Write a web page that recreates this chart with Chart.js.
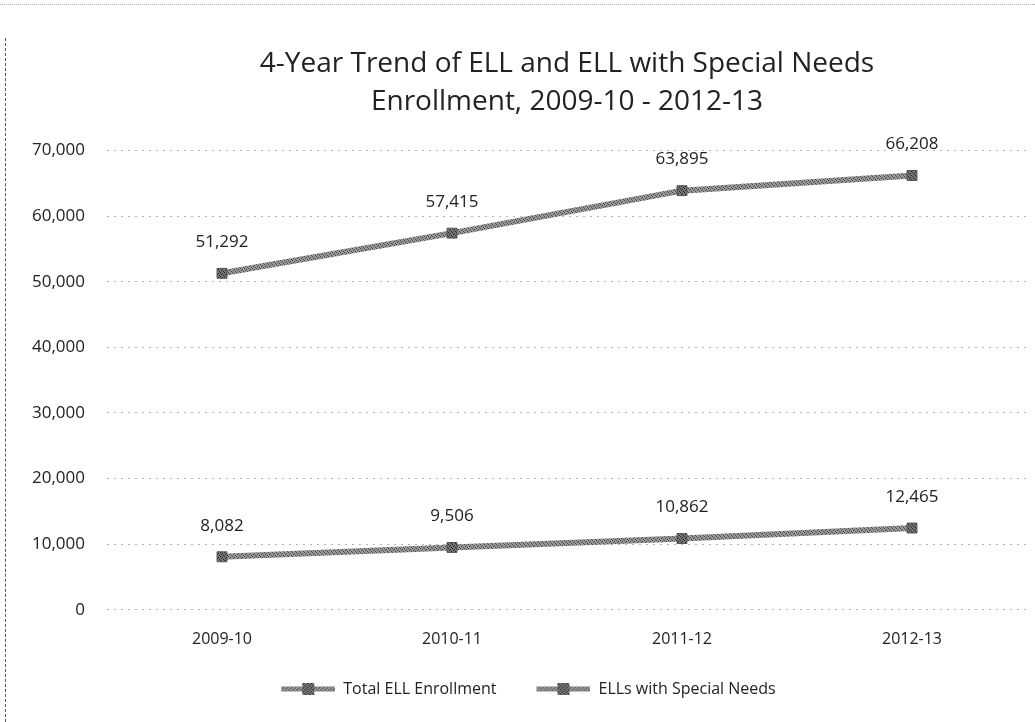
<!DOCTYPE html>
<html>
<head>
<meta charset="utf-8">
<script src="https://cdn.jsdelivr.net/npm/chart.js@4.4.0/dist/chart.umd.min.js"></script>
<style>
  html, body { margin: 0; padding: 0; background: #fff; }
  #wrap { position: relative; width: 1035px; height: 722px; }
  #frame { position: absolute; left: 5px; top: 38px; bottom: 0; border-left: 1px dashed #555; }
  #topline { position: absolute; left: 0; right: 0; top: 4px; border-top: 1px dotted #aaa; }
</style>
</head>
<body>
<div id="wrap">
  <div id="topline"></div>
  <div id="frame"></div>
  <canvas id="chart" width="1035" height="722"></canvas>
</div>
<script>
const years = ['2009-10', '2010-11', '2011-12', '2012-13'];
const totalEll = [51292, 57415, 63895, 66208];
const ellSpecialNeeds = [8082, 9506, 10862, 12465];
const seriesNames = ['Total ELL Enrollment', 'ELLs with Special Needs'];
const yTicks = [0, 10000, 20000, 30000, 40000, 50000, 60000, 70000];

const fontFamily = '"Open Sans", "Noto Sans", sans-serif';

// speckled grey fill, like the scanned print
function makePattern(light, dark) {
    const c = document.createElement('canvas');
    c.width = 4; c.height = 4;
    const g = c.getContext('2d');
    g.fillStyle = light;
    g.fillRect(0, 0, 4, 4);
    g.fillStyle = dark;
    g.fillRect(0, 0, 1, 1); g.fillRect(2, 1, 1, 1);
    g.fillRect(1, 2, 1, 1); g.fillRect(3, 3, 1, 1);
    return g.createPattern(c, 'repeat');
}

const linePattern = makePattern('#9a9a9a', '#444');
const markerPattern = makePattern('#777', '#222');

// legend icon: blank gap on the left, then line with a square marker
function legendIcon() {
    const c = document.createElement('canvas');
    c.width = 74; c.height = 14;
    const g = c.getContext('2d');
    g.strokeStyle = linePattern;
    g.lineWidth = 5;
    g.beginPath(); g.moveTo(20, 7); g.lineTo(74, 7); g.stroke();
    g.fillStyle = markerPattern;
    g.fillRect(41, 1, 12, 12);
    return c;
}

const dataLabels = {
    id: 'dataLabels',
    afterDatasetsDraw(chart) {
        const ctx = chart.ctx;
        ctx.save();
        ctx.font = '17px ' + fontFamily;
        ctx.fillStyle = '#222';
        ctx.textAlign = 'center';
        ctx.textBaseline = 'middle';
        chart.data.datasets.forEach((ds, i) => {
            chart.getDatasetMeta(i).data.forEach((pt, j) => {
                ctx.fillText(ds.data[j].toLocaleString('en-US'), pt.x, pt.y - 31);
            });
        });
        ctx.restore();
    }
};

function makeDataset(label, values) {
    return {
        label: label,
        data: values,
        borderColor: linePattern,
        borderWidth: 6,
        pointStyle: 'rect',
        pointRadius: 7,
        pointBackgroundColor: markerPattern,
        pointBorderColor: '#555',
        pointBorderWidth: 1,
        tension: 0
    };
}

new Chart(document.getElementById('chart').getContext('2d'), {
    type: 'line',
    data: {
        labels: years,
        datasets: [
            makeDataset(seriesNames[0], totalEll),
            makeDataset(seriesNames[1], ellSpecialNeeds)
        ]
    },
    options: {
        responsive: false,
        animation: false,
        layout: { padding: { left: 10, right: 8, top: 45, bottom: 15 } },
        scales: {
            x: {
                offset: true,
                grid: { display: false },
                border: { display: false },
                ticks: { color: '#222', font: { family: fontFamily, size: 16 }, padding: 12 }
            },
            y: {
                min: 0,
                max: 70000,
                afterFit(scale) { scale.width = 97; },
                afterBuildTicks(scale) { scale.ticks = yTicks.map(v => ({ value: v })); },
                grid: { color: '#b5b5b5', borderDash: [2, 5], drawTicks: false },
                border: { display: false, dash: [2, 5] },
                ticks: {
                    color: '#222',
                    font: { family: fontFamily, size: 17 },
                    padding: 22,
                    callback: v => v.toLocaleString('en-US')
                }
            }
        },
        plugins: {
            title: {
                display: true,
                fullSize: false,
                text: ['4-Year Trend of ELL and ELL with Special Needs', 'Enrollment, 2009-10 - 2012-13'],
                color: '#222',
                font: { family: fontFamily, size: 28, weight: 'normal', lineHeight: 1.35 },
                padding: { top: 0, bottom: 30 }
            },
            legend: {
                position: 'bottom',
                labels: {
                    color: '#222',
                    font: { family: fontFamily, size: 16 },
                    usePointStyle: true,
                    pointStyleWidth: 74,
                    boxWidth: 74,
                    padding: 20,
                    generateLabels(chart) {
                        return chart.data.datasets.map((ds, i) => ({
                            text: ds.label,
                            pointStyle: legendIcon(),
                            datasetIndex: i,
                            fontColor: '#222',
                            lineWidth: 0
                        }));
                    }
                }
            },
            tooltip: { enabled: false }
        }
    },
    plugins: [dataLabels]
});
</script>
</body>
</html>
